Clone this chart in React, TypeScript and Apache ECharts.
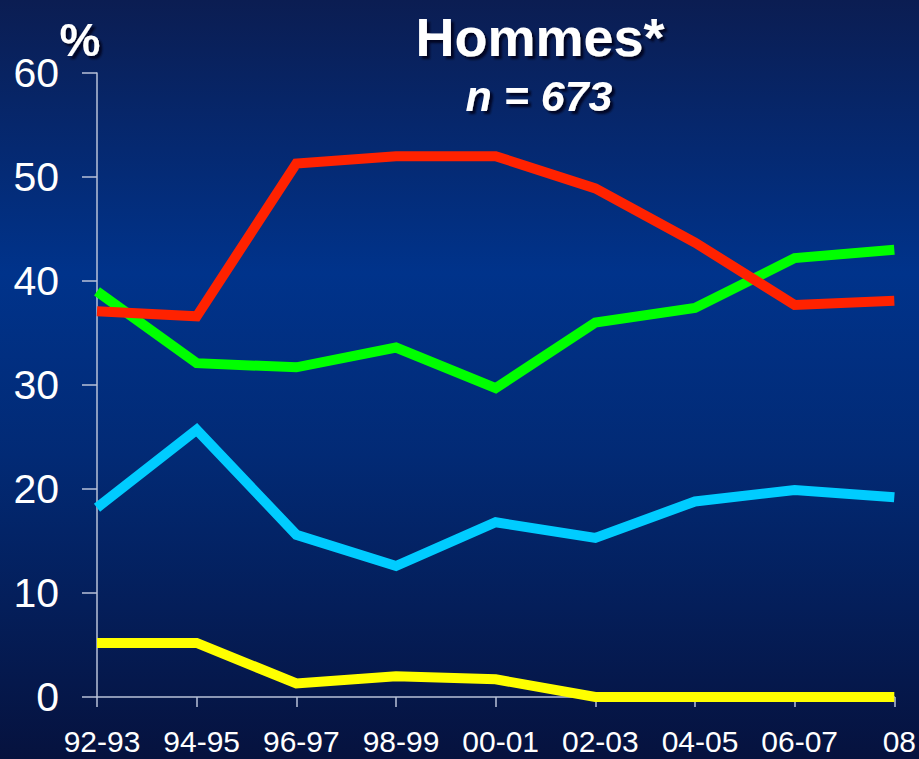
import React, { useEffect, useRef } from "react";
import * as echarts from "echarts";

const categories = ["92-93", "94-95", "96-97", "98-99", "00-01", "02-03", "04-05", "06-07", "08"];
const redValues = [37.1, 36.6, 51.3, 52.0, 52.0, 48.9, 43.7, 37.7, 38.1];
const greenValues = [39.0, 32.1, 31.7, 33.6, 29.7, 36.0, 37.4, 42.2, 43.0];
const cyanValues = [18.2, 25.7, 15.6, 12.6, 16.8, 15.3, 18.8, 19.9, 19.2];
const yellowValues = [5.2, 5.2, 1.3, 2.0, 1.7, 0, 0, 0, 0];
const yTicks = [0, 10, 20, 30, 40, 50, 60];

const FONT = "'Liberation Sans', Arial, Helvetica, sans-serif";

export default function App() {
  const ref = useRef<HTMLDivElement>(null);
  useEffect(() => {
    if (!ref.current) return;
    const chart = echarts.init(ref.current, null, { renderer: "svg" });
    const mk = (name: string, data: number[], color: string) => ({
      name,
      type: "line",
      data,
      symbol: "none",
      lineStyle: { color, width: 10, cap: "butt", join: "miter" },
      itemStyle: { color },
      z: 3,
    });
    chart.setOption({
      animation: false,
      backgroundColor: {
        type: "linear",
        x: 0,
        y: 0,
        x2: 0,
        y2: 1,
        colorStops: [
          { offset: 0, color: "#0b1d52" },
          { offset: 0.36, color: "#00338b" },
          { offset: 0.6, color: "#022a75" },
          { offset: 1, color: "#06123e" },
        ],
      },
      grid: { left: 97, right: 24, top: 73, bottom: 62, containLabel: false },
      xAxis: {
        type: "category",
        data: categories,
        boundaryGap: false,
        axisLine: { show: true, lineStyle: { color: "#b8c2d8", width: 1.5 } },
        axisTick: { show: true, length: 10, inside: false, alignWithLabel: true, lineStyle: { color: "#b8c2d8", width: 1.5 } },
        axisLabel: {
          color: "#ffffff",
          fontSize: 30,
          lineHeight: 30,
          fontFamily: FONT,
          margin: 29,
          padding: [0, 0, 0, 10],
          interval: 0,
        },
        splitLine: { show: false },
      },
      yAxis: {
        type: "value",
        min: 0,
        max: 60,
        interval: 10,
        axisLine: { show: true, lineStyle: { color: "#b8c2d8", width: 1.5 } },
        axisTick: { show: true, length: 15, inside: false, lineStyle: { color: "#b8c2d8", width: 1.5 } },
        axisLabel: {
          color: "#ffffff",
          fontSize: 41,
          fontFamily: FONT,
          margin: 38,
          padding: [0, 0, 12, 0],
          customValues: yTicks,
        },
        splitLine: { show: false },
      },
      series: [
        mk("Jaune", yellowValues, "#ffff00"),
        mk("Cyan", cyanValues, "#00ccff"),
        mk("Vert", greenValues, "#00ff00"),
        mk("Rouge", redValues, "#ff2200"),
      ],
      graphic: [
        {
          type: "text",
          x: 540,
          y: 37,
          style: {
            text: "Hommes*",
            fill: "#ffffff",
            font: `bold 54px ${FONT}`,
            textAlign: "center",
            textVerticalAlign: "middle",
            textShadowColor: "rgba(0,0,20,0.85)",
            textShadowOffsetX: 3,
            textShadowOffsetY: 3,
            textShadowBlur: 2,
          },
          z: 10,
        },
        {
          type: "text",
          x: 539,
          y: 96,
          style: {
            text: "n = 673",
            fill: "#ffffff",
            font: `italic bold 43px ${FONT}`,
            textAlign: "center",
            textVerticalAlign: "middle",
            textShadowColor: "rgba(0,0,20,0.85)",
            textShadowOffsetX: 3,
            textShadowOffsetY: 3,
            textShadowBlur: 2,
          },
          z: 10,
        },
        {
          type: "text",
          x: 80,
          y: 40,
          style: {
            text: "%",
            fill: "#ffffff",
            font: `bold 46px ${FONT}`,
            textAlign: "center",
            textVerticalAlign: "middle",
            textShadowColor: "rgba(0,0,20,0.85)",
            textShadowOffsetX: 3,
            textShadowOffsetY: 3,
            textShadowBlur: 2,
          },
          z: 10,
        },
      ],
    });
    return () => chart.dispose();
  }, []);
  return <div ref={ref} style={{ width: 919, height: 759, position: "fixed", left: 0, top: 0 }} />;
}
